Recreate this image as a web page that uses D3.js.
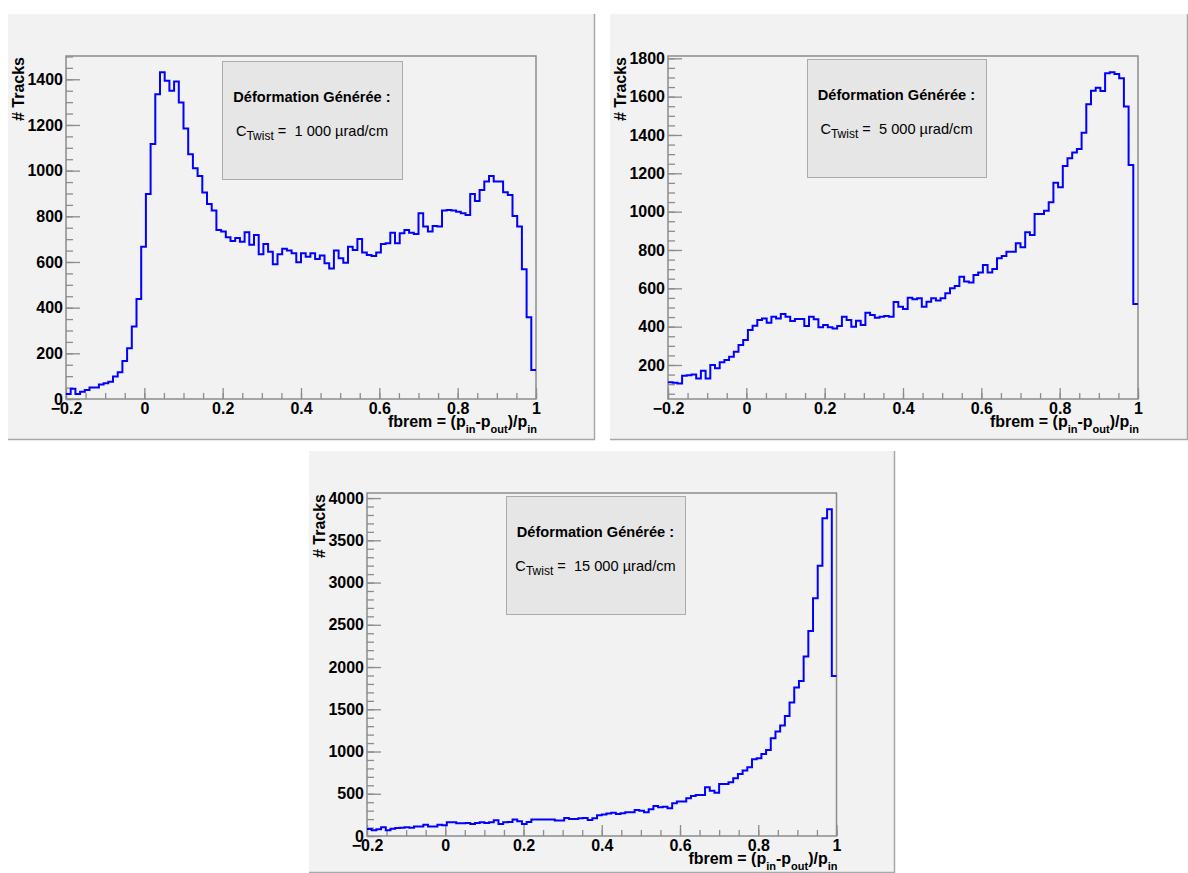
<!DOCTYPE html>
<html>
<head>
<meta charset="utf-8">
<script src="https://cdn.jsdelivr.net/npm/d3@7"></script>
<style>
  body { margin: 0; background: #fff; }
  svg { display: block; font-family: "Liberation Sans", Arial, Helvetica, sans-serif; }
  text { white-space: pre; }
</style>
</head>
<body>
<svg id="chart" width="1188" height="873"></svg>
<script>

// DATA

const xRange = [-0.2, 1];
const xTicks = [-0.2, 0, 0.2, 0.4, 0.6, 0.8, 1];

// fbrem histograms, 100 bins between -0.2 and 1
const counts1000 = [
  22, 45, 22, 32, 39, 50, 50, 64, 69, 76,
  98, 117, 166, 222, 317, 438, 667, 898, 1117, 1334,
  1431, 1394, 1350, 1390, 1298, 1185, 1072, 1010, 977, 904,
  854, 825, 740, 733, 708, 692, 705, 689, 730, 676,
  718, 634, 679, 645, 590, 634, 658, 650, 638, 599,
  638, 623, 638, 613, 628, 594, 572, 650, 616, 597,
  667, 653, 701, 641, 631, 626, 642, 679, 682, 728,
  682, 726, 740, 728, 723, 813, 755, 733, 758, 755,
  825, 828, 825, 820, 813, 806, 898, 867, 915, 952,
  977, 952, 952, 905, 893, 801, 755, 568, 358, 127
];
const counts5000 = [
  110, 108, 104, 144, 146, 151, 130, 170, 130, 200,
  183, 214, 226, 243, 269, 304, 330, 383, 405, 435,
  443, 421, 452, 443, 466, 452, 430, 440, 440, 403,
  452, 438, 397, 409, 397, 391, 403, 452, 435, 400,
  431, 409, 473, 461, 447, 452, 456, 452, 528, 504,
  492, 551, 543, 548, 504, 530, 548, 536, 548, 574,
  600, 612, 661, 635, 631, 670, 683, 722, 682, 701,
  757, 769, 791, 791, 835, 814, 892, 878, 988, 988,
  1005, 1049, 1151, 1127, 1238, 1278, 1308, 1327, 1412, 1560,
  1631, 1647, 1630, 1722, 1727, 1718, 1696, 1548, 1243, 518
];
const counts15000 = [
  83, 67, 79, 103, 67, 87, 95, 99, 103, 99,
  111, 111, 134, 111, 111, 134, 126, 162, 162, 150,
  150, 154, 142, 154, 162, 154, 162, 186, 142, 162,
  166, 194, 174, 142, 166, 194, 194, 194, 194, 194,
  182, 182, 213, 201, 201, 209, 213, 190, 211, 247,
  255, 265, 276, 261, 268, 280, 280, 308, 300, 280,
  316, 355, 340, 347, 328, 387, 407, 407, 446, 474,
  486, 486, 576, 537, 513, 616, 616, 636, 683, 734,
  774, 813, 908, 920, 971, 1019, 1157, 1236, 1307, 1421,
  1579, 1757, 1836, 2124, 2428, 2815, 3198, 3762, 3869, 1895
];

const yTicks1000 = [0, 200, 400, 600, 800, 1000, 1200, 1400];
const yTicks5000 = [200, 400, 600, 800, 1000, 1200, 1400, 1600, 1800];
const yTicks15000 = [0, 500, 1000, 1500, 2000, 2500, 3000, 3500, 4000];

const twistValues = ['1 000', '5 000', '15 000'];
const boxTitle = 'Déformation Générée :';
const yTitle = '# Tracks';

// LAYOUT

const svg = d3.select('#chart');

const panels = [
  {counts: counts1000, yTicks: yTicks1000, twist: twistValues[0],
   bg: [8, 14, 587, 426], left: 66, right: 536, top: 56, bottom: 399,
   yDomain: [0, 1502], yMinor: 50, box: [222, 61, 180, 118]},
  {counts: counts5000, yTicks: yTicks5000, twist: twistValues[1],
   bg: [610, 14, 578, 426], left: 668, right: 1138, top: 56, bottom: 399,
   yDomain: [22.6, 1812], yMinor: 50, box: [807, 59, 179, 118]},
  {counts: counts15000, yTicks: yTicks15000, twist: twistValues[2],
   bg: [309, 451, 586, 422], left: 367, right: 836.5, top: 493, bottom: 836,
   yDomain: [0, 4060], yMinor: 100, box: [506, 496, 179, 118]}
];

panels.forEach(drawPanel);

function drawPanel(p) {

  const g = svg.append('g');
  const [bx, by, bw, bh] = p.bg;

  // pad background
  g.append('rect')
    .attr('x', bx).attr('y', by)
    .attr('width', bw).attr('height', bh)
    .attr('fill', '#f2f2f2');
  g.append('path')
    .attr('d', `M${bx},${by + bh - 0.5}H${bx + bw - 0.5}V${by}`)
    .attr('fill', 'none')
    .attr('stroke', '#a8a8a8')
    .attr('stroke-width', 1.5);

  const x = d3.scaleLinear()
    .domain(xRange)
    .range([p.left, p.right]);
  const y = d3.scaleLinear()
    .domain(p.yDomain)
    .range([p.bottom, p.top]);

  // minor ticks
  const xMinor = d3.range(-0.2, 1.0001, 0.05);
  const yMinor = d3.range(Math.ceil(p.yDomain[0] / p.yMinor) * p.yMinor, p.yDomain[1], p.yMinor);

  g.append('g')
    .attr('transform', `translate(0,${p.bottom})`)
    .call(d3.axisBottom(x).tickValues(xMinor).tickSize(-6).tickFormat(''))
    .call(a => a.select('.domain').remove());
  g.append('g')
    .attr('transform', `translate(${p.left},0)`)
    .call(d3.axisLeft(y).tickValues(yMinor).tickSize(-7).tickFormat(''))
    .call(a => a.select('.domain').remove());

  // major ticks and labels
  const xAxis = g.append('g')
    .attr('transform', `translate(0,${p.bottom})`)
    .call(d3.axisBottom(x).tickValues(xTicks).tickSize(-11).tickPadding(4).tickFormat(d3.format('')))
    .call(a => a.select('.domain').remove());
  const yAxis = g.append('g')
    .attr('transform', `translate(${p.left},0)`)
    .call(d3.axisLeft(y).tickValues(p.yTicks).tickSize(-14).tickPadding(3).tickFormat(d3.format('')))
    .call(a => a.select('.domain').remove());

  g.selectAll('.tick line')
    .attr('stroke', '#8c8c8c')
    .attr('stroke-width', 1.3);
  [xAxis, yAxis].forEach(a => a.selectAll('text')
    .attr('font-family', '"Liberation Sans", Arial, sans-serif')
    .attr('font-size', 16)
    .attr('font-weight', 'bold')
    .attr('fill', '#000'));

  // frame
  g.append('rect')
    .attr('x', p.left).attr('y', p.top)
    .attr('width', p.right - p.left).attr('height', p.bottom - p.top)
    .attr('fill', 'none')
    .attr('stroke', '#8c8c8c')
    .attr('stroke-width', 1.5);

  // histogram
  const n = p.counts.length;
  const edge = i => xRange[0] + i * (xRange[1] - xRange[0]) / n;
  const pts = p.counts.map((c, i) => [edge(i), c]);
  pts.push([xRange[1], p.counts[n - 1]]);

  const step = d3.line()
    .curve(d3.curveStepAfter)
    .x(d => x(d[0]))
    .y(d => y(d[1]));

  g.append('path')
    .datum(pts)
    .attr('fill', 'none')
    .attr('stroke', '#0000ff')
    .attr('stroke-width', 2)
    .attr('d', step);

  // axis titles
  g.append('text')
    .attr('transform', `translate(${p.left - 42},${p.top + 1}) rotate(-90)`)
    .attr('text-anchor', 'end')
    .attr('font-size', 16)
    .attr('font-weight', 'bold')
    .text(yTitle);

  const xt = g.append('text')
    .attr('x', p.right + 1)
    .attr('y', p.bottom + 28)
    .attr('text-anchor', 'end')
    .attr('font-size', 16)
    .attr('font-weight', 'bold');
  xt.append('tspan').text('fbrem = (p');
  xt.append('tspan').attr('font-size', 11).attr('dy', 6).text('in');
  xt.append('tspan').attr('dy', -6).text('-p');
  xt.append('tspan').attr('font-size', 11).attr('dy', 6).text('out');
  xt.append('tspan').attr('dy', -6).text(')/p');
  xt.append('tspan').attr('font-size', 11).attr('dy', 6).text('in');

  // text box
  const [qx, qy, qw, qh] = p.box;
  g.append('rect')
    .attr('x', qx + 0.5).attr('y', qy + 0.5)
    .attr('width', qw).attr('height', qh)
    .attr('fill', '#e6e6e6')
    .attr('stroke', '#ababab')
    .attr('stroke-width', 1);

  g.append('text')
    .attr('x', qx + qw / 2)
    .attr('y', qy + 41)
    .attr('text-anchor', 'middle')
    .attr('font-size', 14.6)
    .attr('font-weight', 'bold')
    .text(boxTitle);

  const t2 = g.append('text')
    .attr('x', qx + qw / 2)
    .attr('y', qy + 75)
    .attr('text-anchor', 'middle')
    .attr('font-size', 14.6);
  t2.append('tspan').text('C');
  t2.append('tspan').attr('font-size', 12).attr('dy', 4).text('Twist');
  t2.append('tspan').attr('dy', -4).text(` =  ${p.twist} µrad/cm`);
}

</script>
</body>
</html>
